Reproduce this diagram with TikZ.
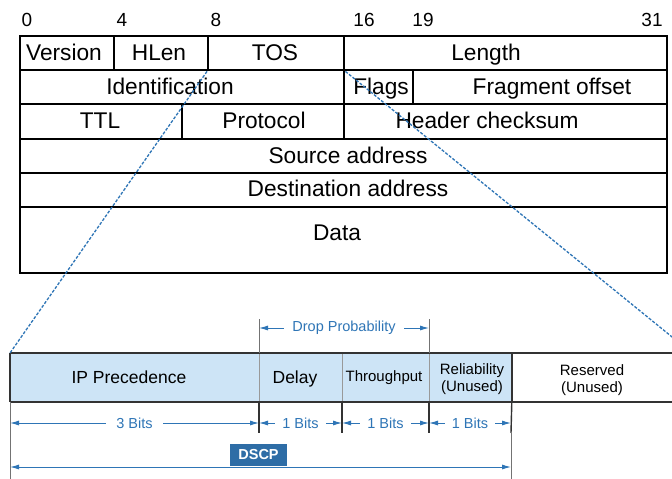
\documentclass[tikz,border=0pt]{standalone}
\usepackage{fontspec}
\setmainfont{Liberation Sans}
\usetikzlibrary{arrows.meta,calc}
\definecolor{tblue}{HTML}{2E75B6}
\definecolor{lblue}{HTML}{CDE4F6}
\definecolor{dblue}{HTML}{2E6DA6}
\definecolor{dgray}{HTML}{333333}
\begin{document}
\begin{tikzpicture}[x=1pt,y=-1pt,
  cell/.style={draw=black, line width=2.4pt, inner sep=0pt, anchor=north west},
  ttext/.style={inner sep=0pt, text height=16.2pt, text depth=0pt, font=\fontsize{22.7}{26}\selectfont},
  num/.style={inner sep=0pt, text height=13.7pt, text depth=0pt, font=\fontsize{19}{22}\selectfont},
  fcell/.style={draw=gray!80, line width=0.8pt, fill=lblue, inner sep=0pt, anchor=north west, minimum height=48pt},
  btext/.style={inner sep=0pt, text height=12.6pt, text depth=0pt, font=\fontsize{17.5}{20}\selectfont},
  stext/.style={inner sep=0pt, align=center, font=\fontsize{15}{17}\selectfont},
  outline/.style={draw=dgray, line width=2pt},
  tick/.style={draw=dgray, line width=1.4pt},
  thin/.style={draw=gray!90!black, line width=0.9pt},
  dim/.style={draw=tblue, line width=1pt, {Latex[length=9pt,width=5pt]}-{Latex[length=9pt,width=5pt]}},
  dlbl/.style={fill=white, text=tblue, inner xsep=8pt, inner ysep=2pt, font=\fontsize{14.5}{17}\selectfont},
  zoomline/.style={draw=tblue, line width=1.3pt, dash pattern=on 3pt off 1.6pt}
]
\clip (0,0) rectangle (672,479);
\fill[white] (0,0) rectangle (672,479);

% bit numbers
\node[num] (n0) at (27,20) {0};
\node[num] (n4) at (122,20) {4};
\node[num] (n8) at (216,20) {8};
\node[num] (n16) at (364,20) {16};
\node[num] (n19) at (423,20) {19};
\node[num] (n31) at (652,20) {31};

% header table cells
\node[cell, minimum width=94pt, minimum height=34pt] (ver) at (19,35) {};
\node[cell, minimum width=94pt, minimum height=34pt] (hlen) at (113,35) {};
\node[cell, minimum width=136pt, minimum height=34pt] (tos) at (207,35) {};
\node[cell, minimum width=323pt, minimum height=34pt] (len) at (343,35) {};
\node[cell, minimum width=324pt, minimum height=34pt] (ident) at (19,69) {};
\node[cell, minimum width=69pt, minimum height=34pt] (flags) at (343,69) {};
\node[cell, minimum width=254pt, minimum height=34pt] (frag) at (412,69) {};
\node[cell, minimum width=162pt, minimum height=35pt] (ttl) at (19,103) {};
\node[cell, minimum width=162pt, minimum height=35pt] (proto) at (181,103) {};
\node[cell, minimum width=323pt, minimum height=35pt] (hcs) at (343,103) {};
\node[cell, minimum width=647pt, minimum height=34pt] (src) at (19,138) {};
\node[cell, minimum width=647pt, minimum height=34pt] (dst) at (19,172) {};
\node[cell, minimum width=647pt, minimum height=66pt] (data) at (19,206) {};

% header texts
\node[ttext] at (64,52) {Version};
\node[ttext] at (159,52) {HLen};
\node[ttext] at (275,52) {TOS};
\node[ttext] at (486,52) {Length};
\node[ttext] at (170,86) {Identification};
\node[ttext] at (381,86) {Flags};
\node[ttext] at (552,86) {Fragment offset};
\node[ttext] at (100,120) {TTL};
\node[ttext] at (264,120) {Protocol};
\node[ttext] at (487,120) {Header checksum};
\node[ttext] at (348,155) {Source address};
\node[ttext] at (348,188) {Destination address};
\node[ttext] at (337,232) {Data};

% TOS byte cells
\node[fcell, minimum width=249pt] (prec) at (10,353) {};
\node[fcell, minimum width=83pt] (delay) at (259,353) {};
\node[fcell, minimum width=87pt] (thru) at (342,353) {};
\node[fcell, minimum width=82pt] (rel) at (429,353) {};
\node[fcell, fill=white, draw=none, minimum width=180pt] (res) at (511,353) {};
\draw[outline] (prec.north west) -- (res.north east);
\draw[outline] (prec.south west) -- (res.south east);
\draw[outline] (prec.north west) -- (prec.south west);
\draw[outline] (rel.north east) -- (rel.south east);

\node[btext] at (129,377) {IP Precedence};
\node[btext] at (295,377) {Delay};
\node[stext] at (384,378) {Throughput};
\node[stext] at (472,379) {Reliability\\(Unused)};
\node[stext] at (592,380) {Reserved\\(Unused)};

% zoom lines
\draw[zoomline] (tos.south west) -- (prec.north west);
\draw[zoomline] (tos.south east) -- (res.north east);

% drop probability
\coordinate (dp1) at (259,319);
\coordinate (dp2) at (429,319);
\draw[thin] (dp1) -- (delay.north west);
\draw[thin] (dp2) -- (rel.north west);
\draw[dim] ($(dp1)+(0,9)$) -- node[dlbl, midway] {Drop Probability} ($(dp2)+(0,9)$);

% ticks below
\coordinate (t1) at (259,433);
\coordinate (t2) at (342,433);
\coordinate (t3) at (429,433);
\coordinate (t4) at (511,433);
\coordinate (b0) at (10,479);
\coordinate (b4) at (511,479);
\draw[tick] (delay.south west) -- (t1);
\draw[tick] (thru.south west) -- (t2);
\draw[tick] (rel.south west) -- (t3);
\draw[tick] (rel.south east) -- (t4);
\draw[thin] (prec.south west) -- (b0);
\draw[thin] (t4) -- (b4);

\coordinate (a0) at (10,423);
\coordinate (a1) at (259,423);
\coordinate (a2) at (342,423);
\coordinate (a3) at (429,423);
\coordinate (a4) at (511,423);
\draw[dim] (a0) -- node[dlbl, midway, inner xsep=10pt] {3 Bits} (a1);
\draw[dim] (a1) -- node[dlbl, midway, inner xsep=7pt] {1 Bits} (a2);
\draw[dim] (a2) -- node[dlbl, midway, inner xsep=7pt] {1 Bits} (a3);
\draw[dim] (a3) -- node[dlbl, midway, inner xsep=7pt] {1 Bits} (a4);

% DSCP
\coordinate (d0) at (10,467);
\coordinate (d1) at (511,467);
\draw[dim] (d0) -- (d1);
\node[fill=dblue, text=white, inner sep=0pt, minimum width=57pt, minimum height=22pt,
  font=\fontsize{14.5}{17}\selectfont\bfseries] (dscp) at (258.5,455) {DSCP};
\end{tikzpicture}
\end{document}
